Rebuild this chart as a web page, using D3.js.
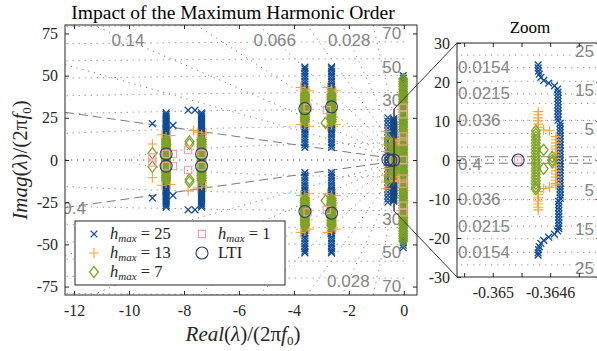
<!DOCTYPE html>
<html>
<head>
<meta charset="utf-8">
<script src="https://cdn.jsdelivr.net/npm/d3@7"></script>
<style>
  body { margin: 0; background: #fff; }
</style>
</head>
<body>
<svg id="chart" width="597" height="351"></svg>
<script>
'use strict';

// ---- data (real part / imag part, both in units of 2*pi*f0) ----
const xTicks = [-12, -10, -8, -6, -4, -2, 0];
const yTicks = [-75, -50, -25, 0, 25, 50, 75];
const zoomXTicks = [-0.3652, -0.365, -0.3648, -0.3646, -0.3644];
const zoomXLabels = [-0.365, -0.3646];
const zoomYTicks = [-30, -20, -10, 0, 10, 20, 30];

const mainZetas = [1, 0.4, 0.213, 0.14, 0.094, 0.066, 0.044, 0.028, 0.014];
const mainZetaLabels = [0.14, 0.066, 0.028];
const mainZetaLabelsBottom = [0.028];
const mainWn = [10, 20, 30, 40, 50, 60, 70, 80];
const mainWnLabels = [30, 50, 70];
const zoomZetas = [1, 0.4, 0.036, 0.0215, 0.0154];
const zoomZetaLabels = [0.036, 0.0215, 0.0154];
const zoomWn = [3.3, 6.8, 10.2, 14.5, 20.2, 26.9];
const zoomWnLabels = [5, 15, 25];

const leftBlueIm = [-28, -27, -26, -25, -24, -23, -22, -21, -20, -19, -18, -17, -16, -15, -14, -13, -12, -11, -10, -9,
  -8, -7, -6, -5, -4, -3, -2, -1, 0, 1, 2, 3, 4, 5, 6, 7, 8, 9, 10, 11, 12, 13, 14, 15, 16, 17, 18, 19, 20,
  21, 22, 23, 24, 25, 26, 27, 28];
const midBlueIm = [7.5, 9, 10.5, 12, 13.5, 15, 16.5, 18, 19.5, 21, 22.5, 24, 25.5, 27, 28.5, 30, 31.5, 33, 34.5, 36,
  37.5, 39, 40.5, 42, 43.5, 45, 46.5, 48, 49.5, 51, 52.5, 54, 55,
  -7.5, -9, -10.5, -12, -13.5, -15, -16.5, -18, -19.5, -21, -22.5, -24, -25.5, -27, -28.5, -30, -31.5, -33, -34.5, -36,
  -37.5, -39, -40.5, -42, -43.5, -45, -46.5, -48, -49.5, -51, -52.5, -54, -55];
const edgeBlueIm = [50, 48.5, 47, 45.5, 44, 42.5, 41, 39.5, 38, 36.5, 35, 33.5, 32, 30.5, 29, 27.5, 26, 24.5, 23, 21.5,
  20, 18.5, 17, 15.5, 14, 12.5, 11, 9.5, 8, 6.5, 5, 3.5, 2, 0.5, -1, -2.5, -4, -5.5, -7, -8.5, -10, -11.5, -13, -14.5,
  -16, -17.5, -19, -20.5, -22, -23.5, -25, -26.5, -28, -29.5, -31, -32.5, -34, -35.5, -37, -38.5, -40, -41.5, -43,
  -44.5, -46, -47.5, -49, -50.5, -52];

const h25 = [
  [-8.65, leftBlueIm],
  [-7.36, leftBlueIm],
  [-9.15, [21.5, -22.5]],
  [-8.4, [20.5, -21]],
  [-7.85, [29.5, -29.5]],
  [-7.6, [29.5, -29.5]],
  [-3.6, midBlueIm],
  [-2.63, midBlueIm],
  [-0.58, [25, 23, 21, 19, 17, 15, 13, 11, 9, 7, 5, 3, 1, -1, -3, -5, -7, -9, -11, -13, -15, -17, -19, -21, -23, -25]],
  [-0.02, edgeBlueIm],
  // inside the zoom window
  [-0.364684, [24.4, 23.6, -23.8, -24.4]],
  [-0.364681, [22.8, -23.0]],
  [-0.364676, [22.0, -22.2]],
  [-0.364665, [21.2, -21.4]],
  [-0.364645, [20.4, -20.6]],
  [-0.364610, [19.7, -19.8]],
  [-0.364570, [19.0, -19.0]],
  [-0.364548, [18.2, -18.2]],
  [-0.364545, [17.4, 16.6, 15.8, 15.0, 14.2, 13.4, 12.6, 11.8, 11.0, 10.2]],
  [-0.364530, [9.4, 8.6, 7.8, 7.0, 6.2, 5.4, 4.6, 3.8, 3.0, 2.2, 1.4, 0.6, -0.2, -1.0, -1.8, -2.6, -3.4,
    -4.2, -5.0, -5.8, -6.6, -7.4, -8.2, -9.0, -9.8]],
  [-0.364540, [-10.6, -11.4, -12.2, -13.0, -13.8, -14.6, -15.4, -16.2, -17.0, -17.6]]
];

const h13 = [
  [-8.65, [-13.5, -12, -10.5, -9, -7.5, -6, -4.5, -3, -1.5, 0, 1.5, 3, 4.5, 6, 7.5, 9, 10.5, 12, 13.5]],
  [-8.8, [15, -15]],
  [-8.5, [14.5, -14.5]],
  [-9.15, [9.5, -10.5]],
  [-7.36, [-15, -13.5, -12, -10.5, -9, -7.5, -6, -4.5, -3, -1.5, 0, 1.5, 3, 4.5, 6, 7.5, 9, 10.5, 12, 13.5, 15]],
  [-7.5, [16.5, -16.5]],
  [-7.2, [16, -16]],
  [-7.85, [-18.3]],
  [-7.65, [17.5]],
  [-3.6, [21, 22.5, 24, 25.5, 27, 28.5, 30, 31.5, 33, 34.5, 36, 37.5, 39, 40.5, 42,
    -21, -22.5, -24, -25.5, -27, -28.5, -30, -31.5, -33, -34.5, -36, -37.5, -39, -40.5, -42]],
  [-3.75, [43, -43, 21, -21]],
  [-3.45, [41, -41, 20, -20]],
  [-2.63, [21, 22.5, 24, 25.5, 27, 28.5, 30, 31.5, 33, 34.5, 36, 37.5, 39, 40.5, 42,
    -21, -22.5, -24, -25.5, -27, -28.5, -30, -31.5, -33, -34.5, -36, -37.5, -39, -40.5, -42]],
  [-2.78, [43, -43, 20, -20]],
  [-2.48, [41, -41, 21, -21]],
  [-0.65, [17, 13, 9, 5, -5, -9, -13, -17]],
  [-0.02, [34, 18, 16, 14, 12, 9, 7, -7, -9, -12, -14, -16, -18, -34]],
  // inside the zoom window
  [-0.364683, [12.4, 11.6, 10.8, 10.0, 9.2, 8.4, -8.1, -8.9, -9.7, -10.5, -11.3, -12.1, -12.8]],
  [-0.364645, [7.7, -7.3]],
  [-0.364604, [7.5, -7.0]],
  [-0.364560, [6.0, 5.2, 4.4, 3.6, 2.8, 2.0, 1.2, 0.4, -0.4, -1.2, -2.0, -2.8, -3.6, -4.4, -5.2, -6.0, -6.4]]
];

const h7 = [
  [-8.65, [-12, -11, -10, -9, -8, -7, -6, -5, -4, -3, -2, -1, 0, 1, 2, 3, 4, 5, 6, 7, 8, 9, 10, 11, 12]],
  [-7.36, [-12, -11, -10, -9, -8, -7, -6, -5, -4, -3, -2, -1, 0, 1, 2, 3, 4, 5, 6, 7, 8, 9, 10, 11, 12]],
  [-9.15, [4, -4]],
  [-7.8, [11, 9.5, -11.5, -13]],
  [-3.6, [23, 24, 25, 26, 27, 28, 29, 30, 31, 32, 33, 34, 35, 36, 37, 38, 39,
    -23, -24, -25, -26, -27, -28, -29, -30, -31, -32, -33, -34, -35, -36, -37, -38, -39]],
  [-2.63, [23, 24, 25, 26, 27, 28, 29, 30, 31, 32, 33, 34, 35, 36, 37, 38, 39,
    -23, -24, -25, -26, -27, -28, -29, -30, -31, -32, -33, -34, -35, -36, -37, -38, -39]],
  [-2.85, [22, -24]],
  [-0.55, [12, 10, -10, -12]],
  [-0.02, [48, 46.5, 45, 43.5, 42, 40.5, 39, 37.5, 36, 34.5, 33, 31.5, 30, 28.5, 27, 25.5, 24, 22.5, 21, 19.5, 18,
    16.5, 15, 13.5, 12, 10.5, 9, 7.5, 6, 4.5, 3, 1.5, 0, -1.5, -3, -4.5, -6, -7.5, -9, -10.5, -12, -13.5, -15,
    -16.5, -18, -19.5, -21, -22.5, -24, -25.5, -27, -28.5, -30, -31.5, -33, -34.5, -36, -37.5, -39, -40.5, -42,
    -43.5, -45, -46.5, -48]],
  // inside the zoom window
  [-0.364700, [7.5, 6.7, 5.9, 5.1, 4.3, 3.5, 2.7, 1.9, 1.1, 0.3, -0.5, -1.3, -2.1, -2.9, -3.7, -4.5, -5.3, -6.1, -6.9, -7.5]],
  [-0.364645, [2.6, -2.2]],
  [-0.364585, [0.8, 0.0, -0.6]]
];

const h1 = [
  [-8.65, [3.6, -3.6]],
  [-8.4, [3.6, -3.6]],
  [-9.15, [1.5, -1.5]],
  [-7.36, [3.6, -3.6]],
  [-7.85, [5.8, -5.8]],
  [-3.5, [31, -31]],
  [-2.8, [29.5, -29.5]],
  [-0.02, [31, 27, 14, 11, 0, -11, -14, -27, -31]],
  [-0.364823, [0]]
];

const lti = [
  [-8.65, [3.6, -3.6]],
  [-7.36, [3.6, -3.6]],
  [-3.6, [30.5, -30.5]],
  [-2.63, [31.5, -31.5]],
  [-0.58, [0.3]],
  [-0.47, [-0.3]],
  [-0.364823, [0]]
];

// ---- layout ----
const svg = d3.select('#chart');
const ink = '#262626';
const gridGray = '#8a8a8a';
const serif = "'Liberation Serif', 'Times New Roman', 'DejaVu Serif', serif";
const sans = "'Liberation Sans', Arial, 'DejaVu Sans', sans-serif";

const mainX = d3.scaleLinear().domain([-12.33, 0.48]).range([65, 417]);
const mainY = d3.scaleLinear().domain([-80, 80]).range([295, 25]);
const zoomX = d3.scaleLinear().domain([-0.36525, -0.36425]).range([457, 600.3]);
const zoomY = d3.scaleLinear().domain([-30, 30]).range([277, 43]);

const points = (groups) => groups.flatMap(([re, ims]) => ims.map(im => ({ re, im })));

const series = [
  { data: h25, color: '#0f4a94', shape: 'x' },
  { data: h13, color: '#f5a53a', shape: 'plus' },
  { data: h7, color: '#7ea325', shape: 'diamond' },
  { data: h1, color: '#f3a1a1', shape: 'square' },
  { data: lti, color: '#24406f', shape: 'circle' }
];

const drawMarker = (sel, shape, color) => {
  if (shape === 'circle') {
    sel.append('circle').attr('r', 6).attr('fill', 'none').attr('stroke', color).attr('stroke-width', 1.1);
    return;
  }
  const d = {
    x: 'M-3.4,-3.4L3.4,3.4M-3.4,3.4L3.4,-3.4',
    plus: 'M-5,0H5M0,-5V5',
    diamond: 'M0,-5.6L4.4,0L0,5.6L-4.4,0Z',
    square: 'M-3.6,-3.6H3.6V3.6H-3.6Z'
  }[shape];
  sel.append('path').attr('d', d).attr('fill', 'none').attr('stroke', color)
    .attr('stroke-width', shape === 'x' ? 1.3 : (shape === 'diamond' ? 1.25 : 1.1));
};

const clipRect = (id, xs, ys) => {
  const [x0, x1] = xs.range();
  const [y1, y0] = ys.range();
  svg.append('clipPath').attr('id', id)
    .append('rect').attr('x', x0).attr('y', y0).attr('width', x1 - x0).attr('height', y1 - y0);
};
clipRect('clipMain', mainX, mainY);
clipRect('clipZoom', zoomX, zoomY);

const circleAngles = (wn, lo, hi) => {
  const a0 = Math.acos(Math.min(1, Math.max(-1, hi / wn)));
  const a1 = Math.acos(Math.min(1, Math.max(-1, lo / wn)));
  return d3.range(0, 121).map(i => a0 + (a1 - a0) * i / 120);
};

const drawGrid = (g, xs, ys, zetas, wns) => {
  const [re0, re1] = xs.domain();
  const reEnd = Math.min(re1, 0);
  zetas.forEach(z => {
    const r = Math.sqrt(1 - z * z) / z;
    [1, -1].forEach(s => {
      g.append('line')
        .attr('x1', xs(re0)).attr('y1', ys(-s * re0 * r))
        .attr('x2', xs(reEnd)).attr('y2', ys(-s * reEnd * r))
        .attr('stroke', z === 0.4 ? '#7a7a7a' : gridGray)
        .attr('stroke-width', 1)
        .attr('stroke-dasharray', z === 0.4 ? '9,5' : '1.2,4.8');
    });
  });
  wns.forEach(wn => {
    const angles = circleAngles(wn, Math.max(re0, -wn), reEnd);
    [1, -1].forEach(s => {
      const line = d3.line().x(a => xs(wn * Math.cos(a))).y(a => ys(s * wn * Math.sin(a)));
      g.append('path').attr('d', line(angles)).attr('fill', 'none')
        .attr('stroke', gridGray).attr('stroke-width', 1).attr('stroke-dasharray', '1.2,4.8');
    });
  });
};

const drawSeries = (g, xs, ys) => {
  series.forEach(s => {
    g.selectAll(null)
      .data(points(s.data))
      .join('g')
      .attr('transform', d => `translate(${xs(d.re)},${ys(d.im)})`)
      .each(function () { drawMarker(d3.select(this), s.shape, s.color); });
  });
};

const labelStyle = (sel) => sel
  .attr('font-family', sans)
  .attr('font-size', 17)
  .attr('fill', '#858585')
  .attr('dominant-baseline', 'central');

// ---- main panel ----
const mainG = svg.append('g').attr('clip-path', 'url(#clipMain)');
drawGrid(mainG, mainX, mainY, mainZetas, mainWn);

mainZetaLabels.forEach(z => {
  const r = Math.sqrt(1 - z * z) / z;
  mainG.append('text').call(labelStyle)
    .attr('x', mainX(-71 / r)).attr('y', mainY(71))
    .attr('text-anchor', 'middle').text(z);
});
mainZetaLabelsBottom.forEach(z => {
  const r = Math.sqrt(1 - z * z) / z;
  mainG.append('text').call(labelStyle)
    .attr('x', mainX(-72 / r)).attr('y', mainY(-72))
    .attr('text-anchor', 'middle').text(z);
});
{
  const r04 = Math.sqrt(1 - 0.16) / 0.4;
  mainG.append('text').call(labelStyle)
    .attr('x', mainX(-12)).attr('y', mainY(-12 * r04 - 1))
    .attr('text-anchor', 'middle').text('0.4');
}
mainWnLabels.forEach(wn => {
  [1, -1].forEach(s => {
    mainG.append('text').call(labelStyle)
      .attr('x', mainX(-0.44)).attr('y', mainY(s * (wn + 5)))
      .attr('text-anchor', 'middle').text(wn);
  });
});

drawSeries(mainG, mainX, mainY);

// ---- zoom panel ----
const zoomG = svg.append('g').attr('clip-path', 'url(#clipZoom)');
drawGrid(zoomG, zoomX, zoomY, zoomZetas, zoomWn);

zoomZetaLabels.forEach(z => {
  const r = Math.sqrt(1 - z * z) / z;
  [1, -1].forEach(s => {
    zoomG.append('text').call(labelStyle)
      .attr('x', zoomX.range()[0] + 1).attr('y', zoomY(s * 0.365 * r))
      .attr('text-anchor', 'start').text(z);
  });
});
zoomG.append('text').call(labelStyle)
  .attr('x', zoomX.range()[0] + 1).attr('y', zoomY(-0.365 * Math.sqrt(1 - 0.16) / 0.4 - 0.3))
  .attr('text-anchor', 'start').text('0.4');
zoomWnLabels.forEach(wn => {
  [1, -1].forEach(s => {
    zoomG.append('text').call(labelStyle)
      .attr('x', 594).attr('y', zoomY(s * (wn + 2.7)))
      .attr('text-anchor', 'end').text(wn);
  });
});

drawSeries(zoomG, zoomX, zoomY);

// ---- axes ----
const styleAxis = (g) => {
  g.selectAll('.domain').remove();
  g.selectAll('line').attr('stroke', ink);
  g.selectAll('text').attr('font-family', serif).attr('font-size', 16).attr('fill', ink);
};
const numFmt = d => String(d);

const frame = (xs, ys, xt, yt, xFmt) => {
  const [x0, x1] = xs.range();
  const [y1, y0] = ys.range();
  svg.append('g').attr('transform', `translate(0,${y1})`)
    .call(d3.axisBottom(xs).tickValues(xt).tickSize(-4).tickPadding(10).tickFormat(xFmt)).call(styleAxis);
  svg.append('g').attr('transform', `translate(0,${y0})`)
    .call(d3.axisTop(xs).tickValues(xt).tickSize(-4).tickFormat('')).call(styleAxis);
  svg.append('g').attr('transform', `translate(${x0},0)`)
    .call(d3.axisLeft(ys).tickValues(yt).tickSize(-4).tickPadding(7).tickFormat(numFmt)).call(styleAxis);
  svg.append('g').attr('transform', `translate(${x1},0)`)
    .call(d3.axisRight(ys).tickValues(yt).tickSize(-4).tickFormat('')).call(styleAxis);
  svg.append('rect').attr('x', x0).attr('y', y0).attr('width', x1 - x0).attr('height', y1 - y0)
    .attr('fill', 'none').attr('stroke', ink).attr('stroke-width', 1);
};
frame(mainX, mainY, xTicks, yTicks, numFmt);
frame(zoomX, zoomY, zoomXTicks, zoomYTicks, d => zoomXLabels.includes(d) ? String(d) : '');

// ---- zoom box and connectors ----
const zx0 = mainX(zoomX.domain()[0]), zx1 = mainX(zoomX.domain()[1]);
const zyTop = mainY(zoomY.domain()[1]), zyBot = mainY(zoomY.domain()[0]);
svg.append('rect').attr('x', zx0).attr('y', zyTop).attr('width', Math.max(zx1 - zx0, 0.5))
  .attr('height', zyBot - zyTop).attr('fill', 'none').attr('stroke', '#3a3a3a').attr('stroke-width', 1);
svg.append('line').attr('x1', zx0).attr('y1', zyTop).attr('x2', zoomX.range()[0]).attr('y2', zoomY.range()[1])
  .attr('stroke', '#3a3a3a').attr('stroke-width', 1);
svg.append('line').attr('x1', zx0).attr('y1', zyBot).attr('x2', zoomX.range()[0]).attr('y2', zoomY.range()[0])
  .attr('stroke', '#3a3a3a').attr('stroke-width', 1);

// ---- titles and axis labels ----
svg.append('text').attr('x', 233).attr('y', 19).attr('text-anchor', 'middle')
  .attr('font-family', serif).attr('font-size', 19.5).attr('fill', '#000')
  .text('Impact of the Maximum Harmonic Order');
svg.append('text').attr('x', 530).attr('y', 33).attr('text-anchor', 'middle')
  .attr('font-family', serif).attr('font-size', 17).attr('fill', '#000').text('Zoom');

const axisLabel = (t) => {
  t.append('tspan').attr('font-style', 'italic').text(t.attr('data-word'));
  t.append('tspan').text('(');
  t.append('tspan').attr('font-style', 'italic').text('λ');
  t.append('tspan').text(')/(2π');
  t.append('tspan').attr('font-style', 'italic').text('f');
  t.append('tspan').attr('font-size', 13).attr('dy', 4).text('0');
  t.append('tspan').attr('dy', -4).text(')');
};
svg.append('text').attr('data-word', 'Real').attr('x', 243).attr('y', 341)
  .attr('text-anchor', 'middle').attr('font-family', serif).attr('font-size', 21).attr('fill', ink).call(axisLabel);
svg.append('text').attr('data-word', 'Imag')
  .attr('transform', 'translate(27,160) rotate(-90)')
  .attr('text-anchor', 'middle').attr('font-family', serif).attr('font-size', 21).attr('fill', ink).call(axisLabel);

// ---- legend ----
const legendItems = [
  { shape: 'x', color: '#0f4a94', label: '25', col: 0, row: 0 },
  { shape: 'plus', color: '#f5a53a', label: '13', col: 0, row: 1 },
  { shape: 'diamond', color: '#7ea325', label: '7', col: 0, row: 2 },
  { shape: 'square', color: '#f3a1a1', label: '1', col: 1, row: 0 },
  { shape: 'circle', color: '#24406f', label: null, col: 1, row: 1 }
];
const legend = svg.append('g');
legend.append('rect').attr('x', 75).attr('y', 221).attr('width', 210).attr('height', 64)
  .attr('fill', '#fff').attr('stroke', ink).attr('stroke-width', 1);
legendItems.forEach(it => {
  const lx = 94 + it.col * 108, ly = 234 + it.row * 19;
  drawMarker(legend.append('g').attr('transform', `translate(${lx},${ly})`), it.shape, it.color);
  const t = legend.append('text').attr('x', lx + 16).attr('y', ly + 5)
    .attr('font-family', serif).attr('font-size', 16.5).attr('fill', ink);
  if (it.label === null) {
    t.text('LTI');
  } else {
    t.append('tspan').attr('font-style', 'italic').text('h');
    t.append('tspan').attr('font-style', 'italic').attr('font-size', 11).attr('dy', 2.5).text('max');
    t.append('tspan').attr('dy', -2.5).text(' = ' + it.label);
  }
});
</script>
</body>
</html>
